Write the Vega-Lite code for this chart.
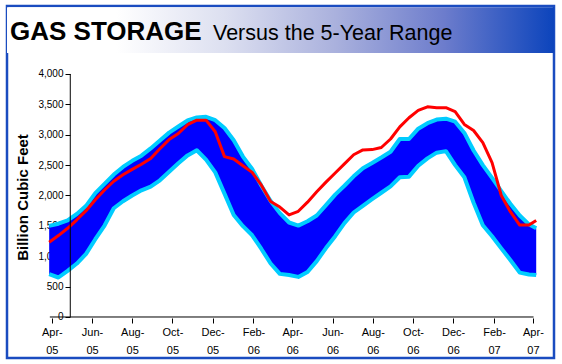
{
  "$schema": "https://vega.github.io/schema/vega-lite/v6.json",
  "width": 547,
  "height": 352,
  "autosize": "none",
  "padding": {"left": 7, "top": 6, "right": 8, "bottom": 6},
  "background": "white",
  "config": {"view": {"stroke": "#1a4cc0", "strokeWidth": 2.5}, "font": "Liberation Sans"},
  "data": {"values": [
    {"date": "2005-03-28", "max": 1500, "min": 705, "actual": 1230},
    {"date": "2005-04-11", "max": 1535, "min": 650, "actual": 1340},
    {"date": "2005-04-25", "max": 1590, "min": 760, "actual": 1460},
    {"date": "2005-05-09", "max": 1695, "min": 880, "actual": 1600},
    {"date": "2005-05-23", "max": 1830, "min": 1040, "actual": 1750},
    {"date": "2005-06-06", "max": 2040, "min": 1280, "actual": 1930},
    {"date": "2005-06-20", "max": 2190, "min": 1505, "actual": 2090},
    {"date": "2005-07-04", "max": 2345, "min": 1790, "actual": 2235},
    {"date": "2005-07-18", "max": 2470, "min": 1905, "actual": 2340},
    {"date": "2005-08-01", "max": 2570, "min": 2000, "actual": 2430},
    {"date": "2005-08-15", "max": 2655, "min": 2085, "actual": 2515},
    {"date": "2005-08-29", "max": 2775, "min": 2145, "actual": 2610},
    {"date": "2005-09-12", "max": 2905, "min": 2250, "actual": 2770},
    {"date": "2005-09-26", "max": 3035, "min": 2390, "actual": 2920},
    {"date": "2005-10-10", "max": 3135, "min": 2530, "actual": 3020},
    {"date": "2005-10-24", "max": 3235, "min": 2660, "actual": 3165},
    {"date": "2005-11-07", "max": 3285, "min": 2745, "actual": 3240},
    {"date": "2005-11-21", "max": 3295, "min": 2590, "actual": 3240},
    {"date": "2005-12-05", "max": 3240, "min": 2380, "actual": 3050},
    {"date": "2005-12-19", "max": 3110, "min": 2030, "actual": 2640},
    {"date": "2006-01-02", "max": 2910, "min": 1680, "actual": 2600},
    {"date": "2006-01-16", "max": 2640, "min": 1495, "actual": 2490},
    {"date": "2006-01-30", "max": 2435, "min": 1345, "actual": 2380},
    {"date": "2006-02-13", "max": 2160, "min": 1120, "actual": 2170},
    {"date": "2006-02-27", "max": 1910, "min": 880, "actual": 1900},
    {"date": "2006-03-13", "max": 1710, "min": 710, "actual": 1810},
    {"date": "2006-03-27", "max": 1555, "min": 690, "actual": 1680},
    {"date": "2006-04-10", "max": 1505, "min": 660, "actual": 1740},
    {"date": "2006-04-24", "max": 1575, "min": 740, "actual": 1890},
    {"date": "2006-05-08", "max": 1670, "min": 920, "actual": 2060},
    {"date": "2006-05-22", "max": 1840, "min": 1135, "actual": 2220},
    {"date": "2006-06-05", "max": 2015, "min": 1330, "actual": 2370},
    {"date": "2006-06-19", "max": 2160, "min": 1545, "actual": 2520},
    {"date": "2006-07-03", "max": 2315, "min": 1720, "actual": 2670},
    {"date": "2006-07-17", "max": 2450, "min": 1830, "actual": 2750},
    {"date": "2006-07-31", "max": 2535, "min": 1940, "actual": 2755},
    {"date": "2006-08-14", "max": 2625, "min": 2045, "actual": 2790},
    {"date": "2006-08-28", "max": 2720, "min": 2150, "actual": 2930},
    {"date": "2006-09-11", "max": 2930, "min": 2300, "actual": 3130},
    {"date": "2006-09-25", "max": 2930, "min": 2310, "actual": 3280},
    {"date": "2006-10-09", "max": 3100, "min": 2490, "actual": 3400},
    {"date": "2006-10-23", "max": 3190, "min": 2610, "actual": 3460},
    {"date": "2006-11-06", "max": 3250, "min": 2705, "actual": 3445},
    {"date": "2006-11-20", "max": 3265, "min": 2730, "actual": 3445},
    {"date": "2006-12-04", "max": 3215, "min": 2500, "actual": 3380},
    {"date": "2006-12-18", "max": 3030, "min": 2300, "actual": 3170},
    {"date": "2007-01-01", "max": 2740, "min": 1880, "actual": 3070},
    {"date": "2007-01-15", "max": 2500, "min": 1510, "actual": 2870},
    {"date": "2007-01-29", "max": 2290, "min": 1330, "actual": 2540},
    {"date": "2007-02-12", "max": 2070, "min": 1130, "actual": 2000},
    {"date": "2007-02-26", "max": 1860, "min": 935, "actual": 1730},
    {"date": "2007-03-12", "max": 1670, "min": 730, "actual": 1514},
    {"date": "2007-03-26", "max": 1525, "min": 700, "actual": 1514},
    {"date": "2007-04-06", "max": 1460, "min": 690, "actual": 1590}
  ]},
  "layer": [
    {
      "mark": {"type": "area", "color": "#0000FF"},
      "encoding": {
        "x": {"field": "date", "type": "temporal",
          "scale": {"type": "utc", "domain": [{"year": 2005, "month": 1, "date": 23, "utc": true}, {"year": 2007, "month": 5, "date": 3, "utc": true}]},
          "axis": {"orient": "bottom", "offset": -40, "domain": false, "grid": false, "title": "",
            "values": [
              {"year": 2005, "month": 4, "date": 1, "utc": true},
              {"year": 2005, "month": 6, "date": 1, "utc": true},
              {"year": 2005, "month": 8, "date": 1, "utc": true},
              {"year": 2005, "month": 10, "date": 1, "utc": true},
              {"year": 2005, "month": 12, "date": 1, "utc": true},
              {"year": 2006, "month": 2, "date": 1, "utc": true},
              {"year": 2006, "month": 4, "date": 1, "utc": true},
              {"year": 2006, "month": 6, "date": 1, "utc": true},
              {"year": 2006, "month": 8, "date": 1, "utc": true},
              {"year": 2006, "month": 10, "date": 1, "utc": true},
              {"year": 2006, "month": 12, "date": 1, "utc": true},
              {"year": 2007, "month": 2, "date": 1, "utc": true},
              {"year": 2007, "month": 4, "date": 1, "utc": true}
            ],
            "labelExpr": "[utcFormat(datum.value, '%b-'), utcFormat(datum.value, '%y')]",
            "tickSize": 5, "tickColor": "#000000", "labelColor": "#000000",
            "labelFont": "Liberation Sans", "labelFontSize": 11, "labelPadding": 3, "labelLineHeight": 18,
            "labelFlush": false, "labelOverlap": false, "labelBound": false}
        },
        "y": {"field": "max", "type": "quantitative",
          "scale": {"domain": [-675, 5119], "nice": false, "zero": false},
          "axis": {"offset": -63, "domain": false, "grid": false,
            "values": [0, 500, 1000, 1500, 2000, 2500, 3000, 3500, 4000],
            "labelExpr": "format(datum.value, ',')", "tickSize": 5, "tickColor": "#000000", "labelColor": "#000000",
            "labelFont": "Liberation Sans", "labelFontSize": 10, "labelPadding": 2,
            "labelFlush": false, "labelOverlap": false,
            "title": "Billion Cubic Feet", "titleFont": "Liberation Sans", "titleFontSize": 15,
            "titleFontWeight": "bold", "titleColor": "#000000", "titleX": -40, "titleY": 191}
        },
        "y2": {"field": "min"}
      }
    },
    {
      "data": {"values": [{}]},
      "mark": {"type": "rect", "fill": {"gradient": "linear", "x1": 0, "y1": 0, "x2": 1, "y2": 0, "stops": [
        {"offset": 0, "color": "#ffffff"},
        {"offset": 0.2, "color": "#ffffff"},
        {"offset": 0.4, "color": "#dcdff0"},
        {"offset": 0.6, "color": "#aab1dd"},
        {"offset": 0.8, "color": "#6c7ccc"},
        {"offset": 1, "color": "#0c44bc"}
      ]}},
      "encoding": {
        "y": {"datum": 4345, "type": "quantitative"},
        "y2": {"datum": 5100}
      }
    },
    {
      "mark": {"type": "line", "color": "#00CCFF", "strokeWidth": 4, "strokeJoin": "round"},
      "encoding": {
        "x": {"field": "date", "type": "temporal"},
        "y": {"field": "max", "type": "quantitative"}
      }
    },
    {
      "mark": {"type": "line", "color": "#00CCFF", "strokeWidth": 4, "strokeJoin": "round"},
      "encoding": {
        "x": {"field": "date", "type": "temporal"},
        "y": {"field": "min", "type": "quantitative"}
      }
    },
    {
      "mark": {"type": "line", "color": "#FF0000", "strokeWidth": 3, "strokeJoin": "round"},
      "encoding": {
        "x": {"field": "date", "type": "temporal"},
        "y": {"field": "actual", "type": "quantitative"}
      }
    },
    {
      "data": {"values": [{}]},
      "mark": {"type": "rule", "color": "#000000", "strokeWidth": 1},
      "encoding": {
        "x": {"datum": {"year": 2005, "month": 3, "date": 29, "utc": true}, "type": "temporal"},
        "x2": {"datum": {"year": 2007, "month": 4, "date": 2, "utc": true}},
        "y": {"datum": 0, "type": "quantitative"}
      }
    },
    {
      "data": {"values": [{}]},
      "mark": {"type": "rule", "color": "#000000", "strokeWidth": 1},
      "encoding": {
        "x": {"datum": {"year": 2005, "month": 4, "date": 29, "utc": true}, "type": "temporal"},
        "y": {"datum": 0, "type": "quantitative"},
        "y2": {"datum": 4000}
      }
    },
    {
      "data": {"values": [{}]},
      "mark": {"type": "text", "text": "GAS STORAGE", "font": "Liberation Sans", "fontSize": 26, "fontWeight": "bold", "align": "left", "baseline": "alphabetic", "dx": 3, "color": "#000000"},
      "encoding": {
        "x": {"datum": {"year": 2005, "month": 1, "date": 23, "utc": true}, "type": "temporal"},
        "y": {"datum": 4559, "type": "quantitative"}
      }
    },
    {
      "data": {"values": [{}]},
      "mark": {"type": "text", "text": "Versus the 5-Year Range", "font": "Liberation Sans", "fontSize": 21.5, "align": "left", "baseline": "alphabetic", "dx": 206, "color": "#000000"},
      "encoding": {
        "x": {"datum": {"year": 2005, "month": 1, "date": 23, "utc": true}, "type": "temporal"},
        "y": {"datum": 4559, "type": "quantitative"}
      }
    }
  ]
}
